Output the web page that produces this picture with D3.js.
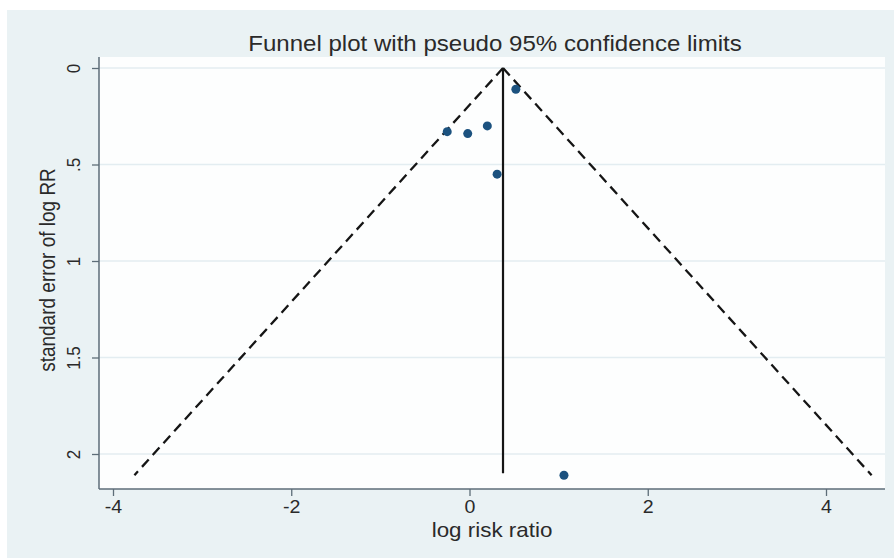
<!DOCTYPE html>
<html><head><meta charset="utf-8">
<script src="https://cdn.jsdelivr.net/npm/d3@7"></script>
<style>html,body{margin:0;padding:0;background:#fff;}svg{display:block;}</style>
</head><body>
<script>
// Data
const studyLogRR = [0.52, -0.25, -0.02, 0.20, 0.31, 1.06];
const studySE    = [0.11, 0.33, 0.34, 0.30, 0.55, 2.11];
const pooledLogRR = 0.376;
const maxSE = 2.11;
const xTicks = [-4, -2, 0, 2, 4];
const yTicks = [0, 0.5, 1, 1.5, 2];
const yTickLabels = ["0", ".5", "1", "1.5", "2"];
const titleText = "Funnel plot with pseudo 95% confidence limits";
const xTitle = "log risk ratio";
const yTitle = "standard error of log RR";

const W = 894, H = 558;
const SX = 1.12; // horizontal glyph stretch seen in the reference
const svg = d3.select("body").append("svg").attr("width", W).attr("height", H);
const font = "'Liberation Sans', Arial, sans-serif";
const txtCol = "#2a2a2a";

// backgrounds
svg.append("rect").attr("x", 0).attr("y", 0).attr("width", W).attr("height", H).attr("fill", "#ffffff");
svg.append("rect").attr("x", 7).attr("y", 10).attr("width", W - 7).attr("height", H - 10).attr("fill", "#eaf2f4");

const pL = 99, pR = 885, pT = 57, pB = 489;
svg.append("rect").attr("x", pL).attr("y", pT).attr("width", pR - pL).attr("height", pB - pT).attr("fill", "#fdfefe");

const x = d3.scaleLinear().domain([-4, 4]).range([113, 826]);
const y = d3.scaleLinear().domain([0, 2]).range([68, 454]);

// grid lines
svg.append("g").selectAll("line").data(yTicks).join("line")
  .attr("x1", pL).attr("x2", pR)
  .attr("y1", d => y(d)).attr("y2", d => y(d))
  .attr("stroke", "#e3edf1").attr("stroke-width", 1.5);

// axes
const axCol = "#5d6d78";
const xAxis = d3.axisBottom(x).tickValues(xTicks).tickSize(7).tickFormat(d3.format("d"));
const gx = svg.append("g").attr("transform", `translate(0,${pB})`).call(xAxis);
gx.select(".domain").attr("d", `M${pL},0H${pR}`).attr("stroke", axCol).attr("stroke-width", 1.5);
gx.selectAll(".tick line").attr("stroke", axCol).attr("stroke-width", 1.3);
gx.selectAll(".tick text").attr("font-family", font).attr("font-size", 17.5).attr("fill", txtCol)
  .attr("y", 24).attr("dy", null)
  .attr("transform", `scale(${SX},1)`)
  .text(d => d < 0 ? "-" + Math.abs(d) : d);

const yAxis = d3.axisLeft(y).tickValues(yTicks).tickSize(7).tickFormat((d, i) => yTickLabels[i]);
const gy = svg.append("g").attr("transform", `translate(${pL},0)`).call(yAxis);
gy.select(".domain").attr("d", `M0,${pT}V${pB}`).attr("stroke", axCol).attr("stroke-width", 1.5);
gy.selectAll(".tick line").attr("stroke", axCol).attr("stroke-width", 1.3);
gy.selectAll(".tick text").attr("font-family", font).attr("font-size", 17).attr("fill", txtCol)
  .attr("x", 0).attr("y", 0).attr("dy", null)
  .attr("text-anchor", "middle")
  .attr("transform", `translate(-25.5,0) scale(${SX},1) rotate(-90)`)
  .attr("dominant-baseline", "central");

// funnel lines
const leftX = pooledLogRR - 1.96 * maxSE, rightX = pooledLogRR + 1.96 * maxSE;
const dash = "10,6";
const lineCol = "#151515";
svg.append("line").attr("x1", x(pooledLogRR)).attr("y1", y(0)).attr("x2", x(leftX)).attr("y2", y(maxSE))
  .attr("stroke", lineCol).attr("stroke-width", 2.3).attr("stroke-dasharray", dash);
svg.append("line").attr("x1", x(pooledLogRR)).attr("y1", y(0)).attr("x2", x(rightX)).attr("y2", y(maxSE))
  .attr("stroke", lineCol).attr("stroke-width", 2.3).attr("stroke-dasharray", dash);
svg.append("line").attr("x1", x(pooledLogRR)).attr("y1", y(0)).attr("x2", x(pooledLogRR)).attr("y2", y(maxSE) - 2)
  .attr("stroke", lineCol).attr("stroke-width", 2.2);

// points
svg.append("g").selectAll("circle").data(studyLogRR.map((v, i) => [v, studySE[i]])).join("circle")
  .attr("cx", d => x(d[0])).attr("cy", d => y(d[1])).attr("r", 4.5)
  .attr("fill", "#1c527f");

// titles
svg.append("text").attr("transform", `translate(495,51) scale(${SX},1)`).attr("text-anchor", "middle")
  .attr("font-family", font).attr("font-size", 21.5).attr("fill", txtCol).text(titleText);
svg.append("text").attr("transform", `translate(492,537) scale(${SX},1)`).attr("text-anchor", "middle")
  .attr("font-family", font).attr("font-size", 20).attr("fill", txtCol).text(xTitle);
svg.append("text").attr("transform", `translate(55,270) scale(${SX},1) rotate(-90)`).attr("text-anchor", "middle")
  .attr("font-family", font).attr("font-size", 19).attr("fill", txtCol).text(yTitle);
</script>
</body></html>
